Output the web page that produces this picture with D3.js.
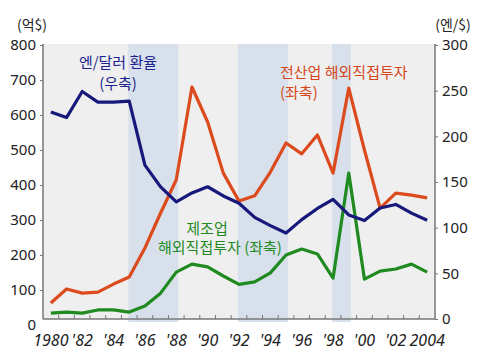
<!DOCTYPE html>
<html><head><meta charset="utf-8">
<script src="https://cdn.jsdelivr.net/npm/d3@7"></script>
<style>
body{margin:0;background:#fff;}
svg{display:block;}
text{font-family:"Noto Sans","Noto Sans CJK KR",sans-serif;}
.kr{font-family:"Noto Sans CJK KR","Noto Sans",sans-serif;}
</style></head><body>
<svg id="c" width="480" height="356"></svg>
<script>
const years = d3.range(1980, 2005);
const yenDollar = [226.7,220.5,249.1,237.5,237.5,238.5,168.5,144.6,128.2,138.0,144.8,134.7,126.7,111.2,102.2,94.1,108.8,121.0,130.9,113.9,107.8,121.5,125.4,115.9,108.2];
const totalFDI = [63,103,91,94,117,137,220,320,415,680,580,434,354,369,437,520,489,543,434,677,500,334,377,371,363];
const mfgFDI = [34,37,34,43,43,37,54,91,151,174,166,140,116,123,149,200,217,203,134,434,131,154,160,174,151];
const shadedPeriods = [[1985,1988],[1992,1995],[1998,1999]];
const leftTicks = [0,100,200,300,400,500,600,700,800];
const rightTicks = [0,50,100,150,200,250,300];
const xLabelYears = [1980,1982,1984,1986,1988,1990,1992,1994,1996,1998,2000,2002,2004];
const xLabels = ["1980","'82","'84","'86","'88","'90","'92","'94","'96","'98","'00","'02","2004"];

const svg = d3.select("#c");
const L = 43, R = 435, T = 44, B = 319;
const x = d3.scaleBand().domain(years).range([L, R]).padding(0);
const bw = x.bandwidth();
const xc = d => x(d) + bw/2;
const yL = d3.scaleLinear().domain([0,800]).range([325,45]);
const yR = d3.scaleLinear().domain([0,300]).range([B,45]);

// background
svg.append("rect").attr("x",L).attr("y",T).attr("width",R-L).attr("height",B-T).attr("fill","#efefef");
svg.selectAll(".band").data(shadedPeriods).enter().append("rect")
  .attr("x", d => xc(d[0]) - 1)
  .attr("width", d => xc(d[1]) - xc(d[0]) + 3)
  .attr("y", T).attr("height", 322 - T)
  .attr("fill", "#d8e1eb");

// axes lines
const axisCol = "#777";
svg.append("line").attr("x1",L).attr("x2",L).attr("y1",T).attr("y2",B).attr("stroke",axisCol).attr("stroke-width",1.5);
svg.append("line").attr("x1",R).attr("x2",R).attr("y1",T).attr("y2",B).attr("stroke",axisCol).attr("stroke-width",1.5);
svg.append("line").attr("x1",L).attr("x2",R).attr("y1",B).attr("y2",B).attr("stroke",axisCol).attr("stroke-width",1.5);

// x ticks at band boundaries
svg.selectAll(".xt").data(years.slice(1)).enter().append("line")
  .attr("x1", d => x(d)).attr("x2", d => x(d))
  .attr("y1", B).attr("y2", B-4).attr("stroke", axisCol).attr("stroke-width",1);
svg.selectAll(".xl").data(xLabelYears).enter().append("text")
  .attr("x", d => xc(d)).attr("y", 346)
  .attr("text-anchor","middle").attr("font-size",16).attr("font-style","italic")
  .attr("fill","#222")
  .text((d,i) => xLabels[i]);

// left axis
const la = svg.append("g").attr("transform",`translate(${L},0)`)
  .call(d3.axisLeft(yL).tickValues(leftTicks).tickSize(3).tickPadding(4));
la.select(".domain").remove();
la.selectAll(".tick line").attr("stroke",axisCol).attr("display", d => d===0 ? "none" : null);
la.selectAll(".tick text").attr("font-size",15).attr("fill","#222").attr("font-family","Noto Sans");

// right axis
const ra = svg.append("g").attr("transform",`translate(${R},0)`)
  .call(d3.axisRight(yR).tickValues(rightTicks).tickSize(3).tickPadding(4));
ra.select(".domain").remove();
ra.selectAll(".tick line").attr("stroke",axisCol);
ra.selectAll(".tick text").attr("font-size",15).attr("fill","#222").attr("font-family","Noto Sans");

// unit labels
svg.append("text").attr("class","kr").attr("x",32).attr("y",30).attr("text-anchor","middle").attr("font-size",14).attr("fill","#222").text("(억$)");
svg.append("text").attr("class","kr").attr("x",453).attr("y",30).attr("text-anchor","middle").attr("font-size",14).attr("fill","#222").text("(엔/$)");

// lines
const lineL = d3.line().x((d,i) => xc(years[i])).y(d => yL(d));
const lineR = d3.line().x((d,i) => xc(years[i])).y(d => yR(d));
svg.append("path").attr("d", lineL(mfgFDI)).attr("fill","none").attr("stroke","#1f8a1f").attr("stroke-width",3.2).attr("stroke-linejoin","round");
svg.append("path").attr("d", lineL(totalFDI)).attr("fill","none").attr("stroke","#dc4b1e").attr("stroke-width",3.2).attr("stroke-linejoin","round");
svg.append("path").attr("d", lineR(yenDollar)).attr("fill","none").attr("stroke","#16197a").attr("stroke-width",3.2).attr("stroke-linejoin","round");

// annotations
const ann = (txt,x0,y0,col,anchor) => svg.append("text").attr("class","kr").attr("x",x0).attr("y",y0)
  .attr("text-anchor",anchor).attr("font-size",15).attr("fill",col).text(txt);
ann("엔/달러 환율",118,68,"#1c1f8e","middle");
ann("(우축)",118,89,"#1c1f8e","middle");
ann("전산업 해외직접투자",280,78,"#d6461a","start");
ann("(좌축)",280,98,"#d6461a","start");
ann("제조업",207,234,"#1f8a1f","middle");
ann("해외직접투자 (좌축)",158,253,"#1f8a1f","start");
</script></body></html>
